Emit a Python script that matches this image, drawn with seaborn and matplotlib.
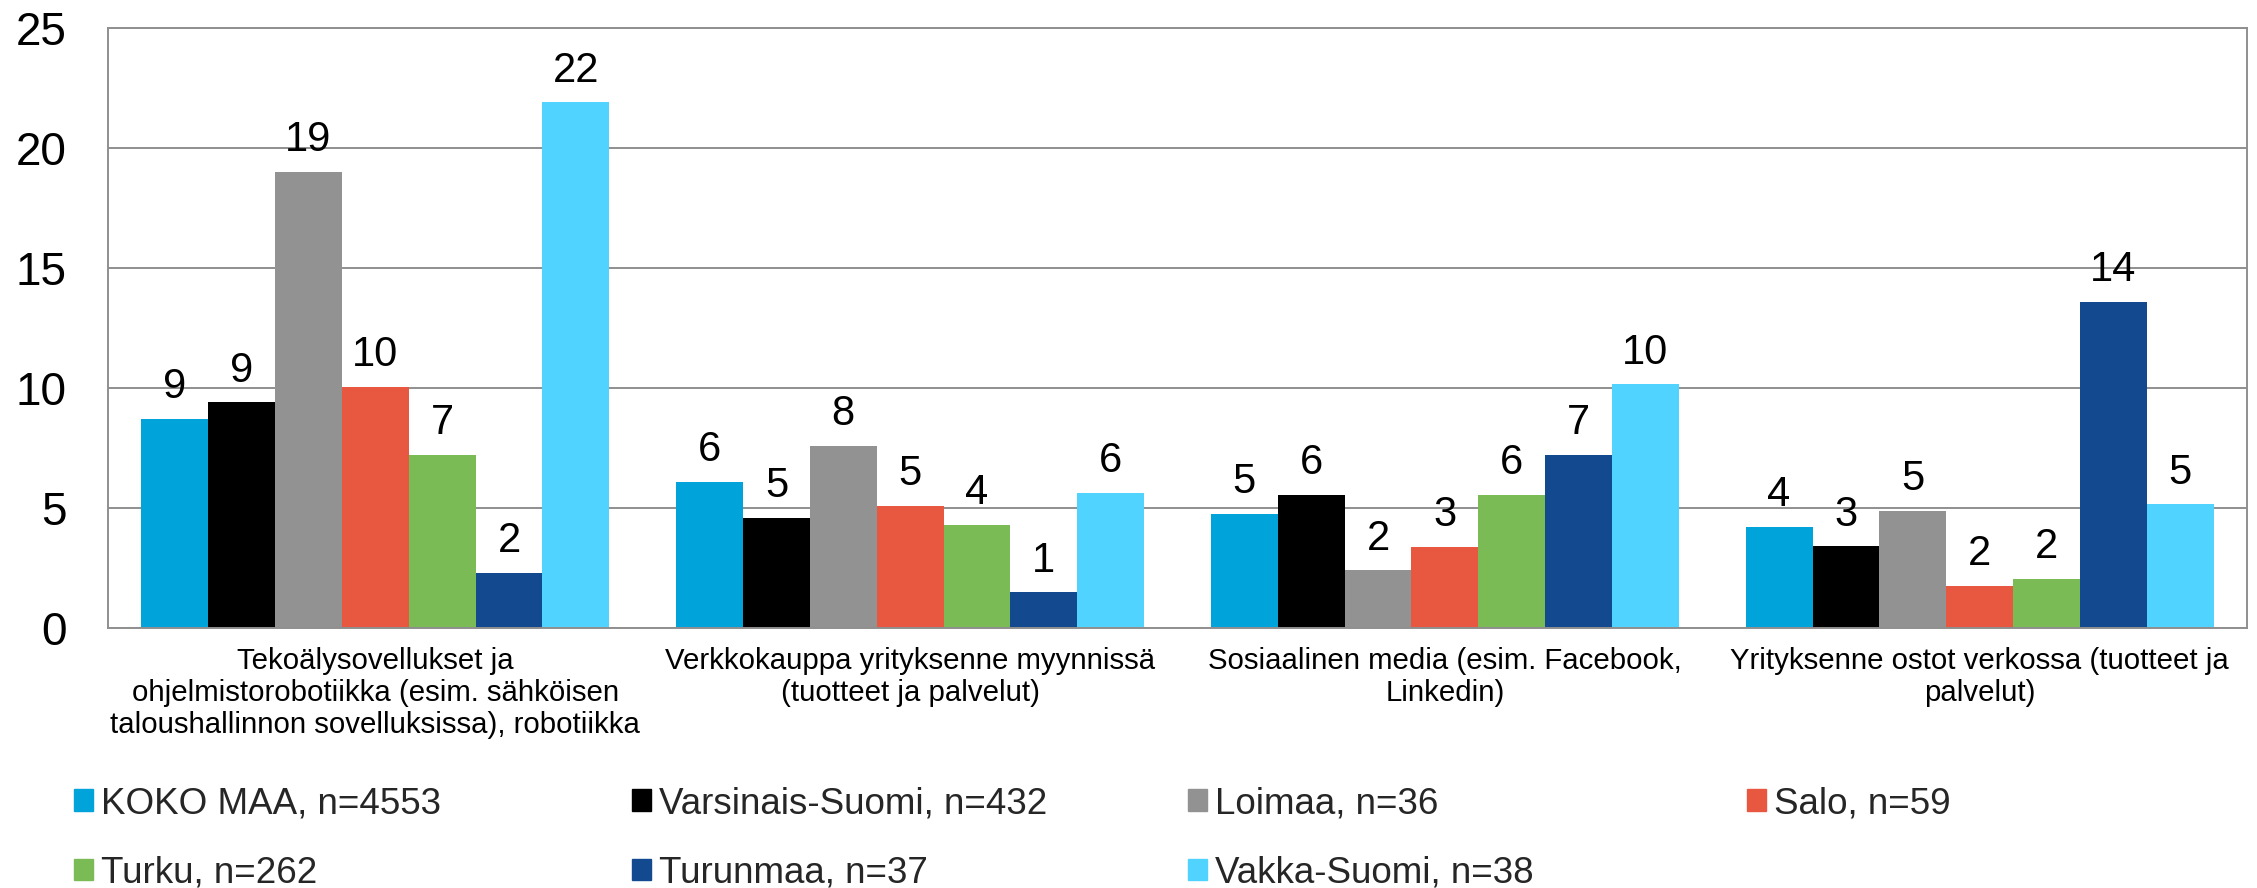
import matplotlib
matplotlib.use("Agg")
import matplotlib.pyplot as plt
import matplotlib.patches as mpatches
import seaborn as sns
import pandas as pd

sns.set_theme(style="white")
plt.rcParams['font.family'] = ['Liberation Sans', 'DejaVu Sans']

# Categories (x axis groups)
categories = [
    "Tekoälysovellukset ja\nohjelmistorobotiikka (esim. sähköisen\ntaloushallinnon sovelluksissa), robotiikka",
    "Verkkokauppa yrityksenne myynnissä\n(tuotteet ja palvelut)",
    "Sosiaalinen media (esim. Facebook,\nLinkedin)",
    "Yrityksenne ostot verkossa (tuotteet ja\npalvelut)",
]

# Series (regions) and their values per category
series = ["KOKO MAA, n=4553", "Varsinais-Suomi, n=432", "Loimaa, n=36", "Salo, n=59",
          "Turku, n=262", "Turunmaa, n=37", "Vakka-Suomi, n=38"]
koko_maa = [8.7, 6.1, 4.75, 4.2]
varsinais_suomi = [9.4, 4.6, 5.53, 3.4]
loimaa = [19.0, 7.6, 2.4, 4.88]
salo = [10.05, 5.1, 3.38, 1.75]
turku = [7.2, 4.3, 5.56, 2.03]
turunmaa = [2.3, 1.48, 7.2, 13.6]
vakka_suomi = [21.9, 5.63, 10.15, 5.15]

colors = ["#00A3DA", "#000000", "#929292", "#E8573F", "#7ABB55", "#134A8F", "#50D3FF"]

values = [koko_maa, varsinais_suomi, loimaa, salo, turku, turunmaa, vakka_suomi]
rows = []
for s, vals in zip(series, values):
    for c, v in zip(categories, vals):
        rows.append({"category": c, "series": s, "value": v})
df = pd.DataFrame(rows)

fig = plt.figure(figsize=(22.57, 8.88), dpi=100)
ax = fig.add_axes([108 / 2257, 1 - 628 / 888, 2139 / 2257, 600 / 888])

sns.barplot(data=df, x="category", y="value", hue="series", order=categories,
            hue_order=series, palette=colors, width=0.875, gap=0,
            linewidth=0, saturation=1, errorbar=None, ax=ax)

for cont in ax.containers:
    ax.bar_label(cont, fmt="{:.0f}", padding=8.5, fontsize=30, color="black")

ax.set_xlim(-0.5, 3.5)
ax.set_ylim(0, 25)
ax.set_yticks([0, 5, 10, 15, 20, 25])
ax.set_xlabel("")
ax.set_ylabel("")
ax.yaxis.grid(True, color="#8F8F8F", linewidth=1.4)
ax.set_axisbelow(True)
for sp in ax.spines.values():
    sp.set_visible(True)
    sp.set_color("#8F8F8F")
    sp.set_linewidth(1.4)
ax.tick_params(axis="y", length=0, pad=30, labelsize=33, labelcolor="black")
ax.tick_params(axis="x", length=0, pad=14, labelsize=21.2, labelcolor="black")
for lbl in ax.get_xticklabels():
    lbl.set_linespacing(1.18)

ax.get_legend().remove()

# Legend: four columns laid out row-wise, placed at fixed positions
handles = [mpatches.Patch(color=c, label=s) for c, s in zip(colors, series)]
col_x = [74 / 2257, 632 / 2257, 1188 / 2257, 1747 / 2257]
columns = [[0, 4], [1, 5], [2, 6], [3]]
for x, idx in zip(col_x, columns):
    fig.legend(handles=[handles[i] for i in idx], loc="upper left",
               bbox_to_anchor=(x, 1 - 786 / 888), frameon=False, fontsize=26.5,
               handlelength=0.52, handleheight=0.52, handletextpad=0.22,
               labelspacing=0.94, borderpad=0, borderaxespad=0)

fig.savefig("out.png", dpi=100, facecolor="white")
